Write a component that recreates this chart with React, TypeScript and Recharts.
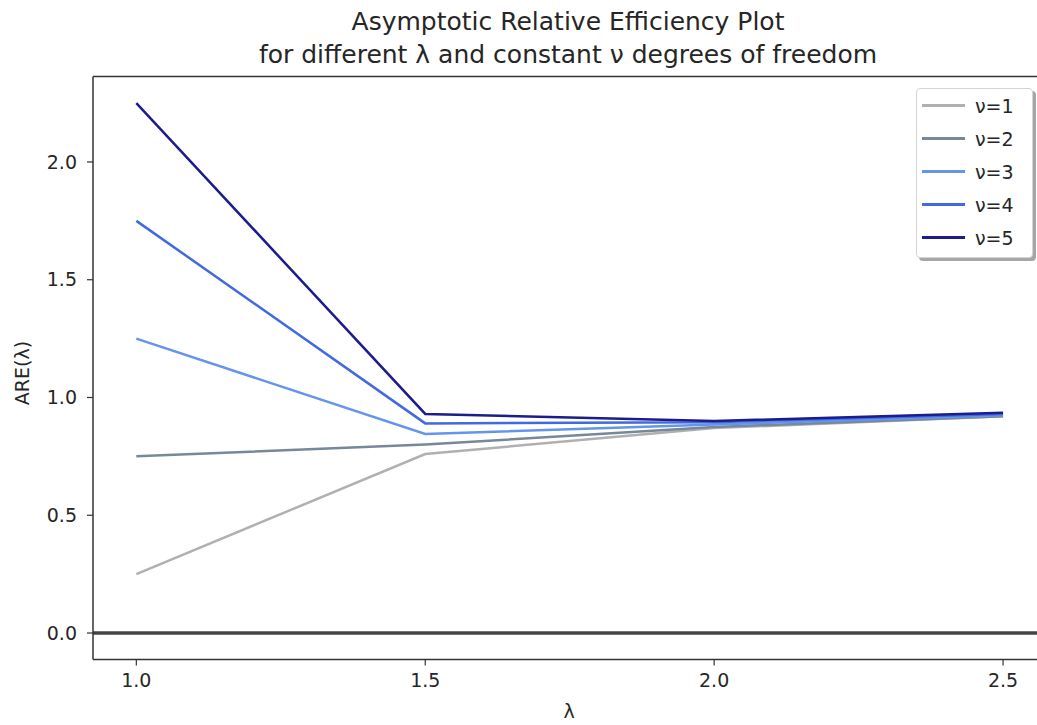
import React from 'react';
import { LineChart, Line, XAxis, YAxis, ReferenceLine } from 'recharts';

// λ values on the x axis
const lambdas = [1.0, 1.5, 2.0, 2.5];

// ARE(λ) for each ν
const nu1 = [0.25, 0.76, 0.87, 0.92];
const nu2 = [0.75, 0.8, 0.875, 0.92];
const nu3 = [1.25, 0.845, 0.885, 0.925];
const nu4 = [1.75, 0.89, 0.895, 0.93];
const nu5 = [2.25, 0.93, 0.9, 0.935];

const seriesNames = ['ν=1', 'ν=2', 'ν=3', 'ν=4', 'ν=5'];
const seriesValues = [nu1, nu2, nu3, nu4, nu5];
const seriesColors = ['#b0b0b0', '#778899', '#6495ed', '#4169e1', '#1c1c8c'];

const xTicks = [1.0, 1.5, 2.0, 2.5];
const yTicks = [0, 0.5, 1.0, 1.5, 2.0];

// axis limits with 5% padding around the data, matplotlib style
const xDomain: [number, number] = [0.925, 2.575];
const yDomain: [number, number] = [-0.1125, 2.3625];

const FONT = '"DejaVu Sans", sans-serif';
const TEXT = '#262626';
const SPINE = '#333333';

const data = lambdas.map((x, i) => {
  const row: Record<string, number> = { x };
  seriesValues.forEach((vals, s) => {
    row[`s${s}`] = vals[i];
  });
  return row;
});

const tickStyle = { fontSize: 19, fill: TEXT, fontFamily: FONT };

function LegendBox() {
  return (
    <div
      style={{
        position: 'absolute',
        left: 916,
        top: 88,
        width: 117,
        height: 170,
        boxSizing: 'border-box',
        background: '#fff',
        border: '1px solid #d4d4d4',
        borderRadius: 4,
        boxShadow: '3px 3px 0 rgba(0,0,0,0.35)',
        fontFamily: FONT,
        fontSize: 19,
        color: TEXT,
      }}
    >
      {seriesNames.map((name, i) => (
        <div
          key={name}
          style={{ height: 33, display: 'flex', alignItems: 'center', paddingLeft: 5 }}
        >
          <span
            style={{
              display: 'inline-block',
              width: 43,
              height: 2.5,
              background: seriesColors[i],
              marginRight: 10,
            }}
          />
          <span>{name}</span>
        </div>
      ))}
    </div>
  );
}

export default function App() {
  return (
    <div
      style={{
        position: 'absolute',
        left: 0,
        top: 0,
        width: 1037,
        height: 725,
        overflow: 'hidden',
        background: '#fff',
        fontFamily: FONT,
      }}
    >
      <div
        style={{
          position: 'absolute',
          left: 168,
          top: 5,
          width: 800,
          textAlign: 'center',
          fontSize: 25,
          lineHeight: '33px',
          color: TEXT,
          whiteSpace: 'nowrap',
        }}
      >
        Asymptotic Relative Efficiency Plot
        <br />
        for different λ and constant ν degrees of freedom
      </div>

      <LineChart
        width={1060}
        height={725}
        data={data}
        margin={{ top: 76.6, right: 13.6, left: 0, bottom: 25.5 }}
      >
        <XAxis
          dataKey="x"
          type="number"
          domain={xDomain}
          ticks={xTicks}
          tickFormatter={(v: number) => v.toFixed(1)}
          allowDataOverflow
          height={40}
          tick={tickStyle}
          tickSize={6}
          tickMargin={8}
          axisLine={{ stroke: SPINE, strokeWidth: 1.5 }}
          tickLine={{ stroke: SPINE, strokeWidth: 1.2 }}
        />
        <YAxis
          type="number"
          domain={yDomain}
          ticks={yTicks}
          tickFormatter={(v: number) => v.toFixed(1)}
          allowDataOverflow
          width={93}
          tick={tickStyle}
          tickSize={6}
          tickMargin={10}
          axisLine={{ stroke: SPINE, strokeWidth: 1.5 }}
          tickLine={{ stroke: SPINE, strokeWidth: 1.2 }}
        />
        {/* top spine */}
        <ReferenceLine y={yDomain[1]} stroke={SPINE} strokeWidth={1.5} ifOverflow="visible" />
        <ReferenceLine y={0} stroke="#444444" strokeWidth={3.5} />
        {seriesNames.map((name, i) => (
          <Line
            key={name}
            dataKey={`s${i}`}
            name={name}
            type="linear"
            stroke={seriesColors[i]}
            strokeWidth={2.5}
            dot={false}
            activeDot={false}
            isAnimationActive={false}
          />
        ))}
      </LineChart>

      <div
        style={{
          position: 'absolute',
          left: 22,
          top: 373,
          transform: 'translate(-50%, -50%) rotate(-90deg)',
          fontSize: 19,
          color: TEXT,
          whiteSpace: 'nowrap',
        }}
      >
        ARE(λ)
      </div>
      <div
        style={{
          position: 'absolute',
          left: 569,
          top: 711,
          transform: 'translate(-50%, -50%)',
          fontSize: 19,
          color: TEXT,
        }}
      >
        λ
      </div>

      <LegendBox />
    </div>
  );
}
